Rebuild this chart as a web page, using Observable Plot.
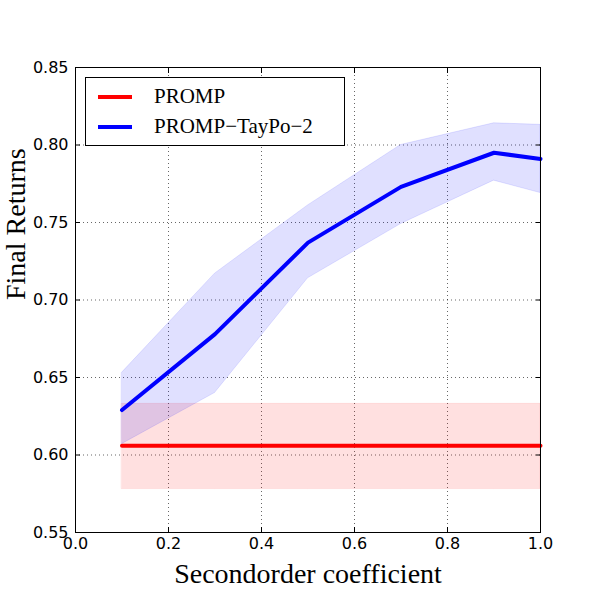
<!DOCTYPE html>
<html>
<head>
<meta charset="utf-8">
<script src="https://cdn.jsdelivr.net/npm/d3@7"></script>
<script src="https://cdn.jsdelivr.net/npm/@observablehq/plot@0.6"></script>
<style>
body{margin:0;background:#fff;}
#wrap{position:relative;width:600px;height:600px;}
#legend{position:absolute;left:85px;top:77px;width:258px;height:67px;border:1px solid #000;background:#fff;font-family:"Liberation Serif",serif;font-size:21px;}
.row{position:absolute;left:12px;display:flex;align-items:center;}
.sw{width:34px;height:4px;margin-right:22px;}
</style>
</head>
<body>
<div id="wrap"></div>
<script>
const xs = [0.1, 0.3, 0.5, 0.7, 0.9, 1.0];
const promp = [0.606, 0.606, 0.606, 0.606, 0.606, 0.606];
const prompLo = [0.578, 0.578, 0.578, 0.578, 0.578, 0.578];
const prompHi = [0.633, 0.633, 0.633, 0.633, 0.633, 0.633];
const taypo = [0.629, 0.678, 0.737, 0.773, 0.795, 0.791];
const taypoLo = [0.607, 0.640, 0.714, 0.749, 0.777, 0.769];
const taypoHi = [0.653, 0.717, 0.761, 0.800, 0.814, 0.813];
const xTicks = [0, 0.2, 0.4, 0.6, 0.8, 1.0];
const yTicks = [0.55, 0.60, 0.65, 0.70, 0.75, 0.80, 0.85];
const seriesNames = ["PROMP", "PROMP\u2212TayPo\u22122"];
const seriesColors = ["red", "blue"];

const red = xs.map((x, i) => ({x, y: promp[i], lo: prompLo[i], hi: prompHi[i]}));
const blue = xs.map((x, i) => ({x, y: taypo[i], lo: taypoLo[i], hi: taypoHi[i]}));

const chart = Plot.plot({
  width: 600, height: 600,
  marginLeft: 75, marginRight: 60, marginTop: 67, marginBottom: 68,
  style: {background: "white", color: "black"},
  x: {domain: [0, 1], ticks: xTicks},
  y: {domain: [0.55, 0.85], ticks: yTicks},
  marks: [
    Plot.gridX(xTicks, {stroke: "black", strokeOpacity: 1, strokeWidth: 0.6, strokeDasharray: "1,3"}),
    Plot.gridY(yTicks, {stroke: "black", strokeOpacity: 1, strokeWidth: 0.6, strokeDasharray: "1,3"}),
    Plot.areaY(red, {x: "x", y1: "lo", y2: "hi", fill: "red", fillOpacity: 0.12, stroke: "red", strokeOpacity: 0.08}),
    Plot.areaY(blue, {x: "x", y1: "lo", y2: "hi", fill: "blue", fillOpacity: 0.12, stroke: "blue", strokeOpacity: 0.1}),
    Plot.line(red, {x: "x", y: "y", stroke: "red", strokeWidth: 4}),
    Plot.line(blue, {x: "x", y: "y", stroke: "blue", strokeWidth: 4}),
    Plot.text(xTicks, {x: d => d, frameAnchor: "bottom", lineAnchor: "top", dy: 5, text: d3.format(".1f"), fontSize: 16, fontFamily: "DejaVu Sans", fill: "black"}),
    Plot.text(yTicks, {y: d => d, frameAnchor: "left", textAnchor: "end", dx: -7, text: d3.format(".2f"), fontSize: 16, fontFamily: "DejaVu Sans", fill: "black"}),
    Plot.axisX(xTicks, {anchor: "bottom", tickSize: -5, tickFormat: () => "", label: null}),
    Plot.axisX(xTicks, {anchor: "top", tickSize: -5, tickFormat: () => "", label: null}),
    Plot.axisY(yTicks, {anchor: "left", tickSize: -5, tickFormat: () => "", label: null}),
    Plot.axisY(yTicks, {anchor: "right", tickSize: -5, tickFormat: () => "", label: null}),
    Plot.frame({stroke: "black", strokeWidth: 1}),
    Plot.text(["Secondorder coefficient"], {frameAnchor: "bottom", dy: 50, fontSize: 28, fontFamily: "Liberation Serif", fill: "black"}),
    Plot.text(["Final Returns"], {frameAnchor: "left", dx: -59, rotate: -90, fontSize: 28, fontFamily: "Liberation Serif", fill: "black"})
  ]
});
const wrap = document.getElementById("wrap");
wrap.appendChild(chart);
const lg = document.createElement("div");
lg.id = "legend";
seriesNames.forEach((n, i) => {
  const r = document.createElement("div");
  r.className = "row";
  r.style.top = (i === 0 ? 6 : 36) + "px";
  r.innerHTML = `<span class="sw" style="background:${seriesColors[i]}"></span><span>${n}</span>`;
  lg.appendChild(r);
});
wrap.appendChild(lg);
</script>
</body>
</html>
